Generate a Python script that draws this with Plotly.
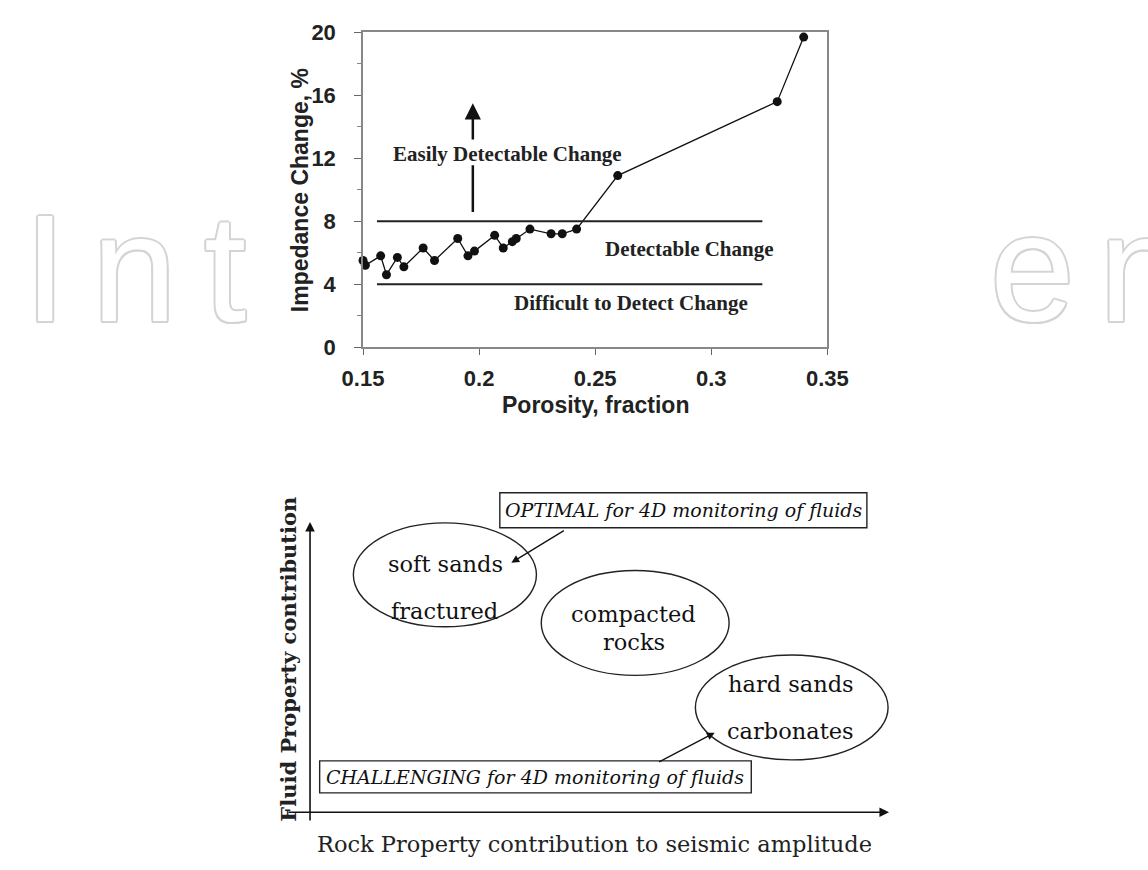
import plotly.graph_objects as go

W, H = 1148, 870

# ---------------- data (top chart) ----------------
porosity = [0.150, 0.151, 0.1576, 0.1601, 0.1648, 0.1676, 0.1759, 0.1808, 0.1908,
            0.1952, 0.198, 0.2067, 0.2104, 0.2143, 0.216, 0.2219, 0.231, 0.2358,
            0.242, 0.2597, 0.3284, 0.3398]
impedance = [5.5, 5.2, 5.8, 4.6, 5.7, 5.1, 6.3, 5.5, 6.9, 5.8, 6.1, 7.1, 6.3, 6.7,
             6.9, 7.5, 7.2, 7.2, 7.5, 10.9, 15.6, 19.7]
thresholds = [4, 8]
threshold_x = [0.156, 0.322]
zone_labels = ["Easily Detectable Change", "Detectable Change", "Difficult to Detect Change"]
zone_x = [0.2122, 0.2907, 0.2655]
zone_y = [12.28, 6.23, 2.78]
x_ticks = [0.15, 0.2, 0.25, 0.3, 0.35]
x_tick_text = ["0.15", "0.2", "0.25", "0.3", "0.35"]
y_ticks = [0, 4, 8, 12, 16, 20]
y_tick_text = ["0", "4", "8", "12", "16", "20"]

# ---------------- data (bottom diagram) ----------------
rock_classes = [["soft sands", "fractured"], ["compacted", "rocks"], ["hard sands", "carbonates"]]
callouts = ["<i>OPTIMAL for 4D monitoring of fluids</i>", "<i>CHALLENGING for 4D monitoring of fluids</i>"]


def px(x):
    return x / W


def py(y):
    return 1 - y / H


def label(x, y, text, family, size, angle=0, color="#222"):
    return dict(x=px(x), y=py(y), xref="paper", yref="paper", text=text, textangle=angle,
                showarrow=False, xanchor="center", yanchor="middle",
                font=dict(family=family, size=size, color=color))


def arrow(tip, tail, width=1.4, size=1.2):
    return dict(x=px(tip[0]), y=py(tip[1]), xref="paper", yref="paper",
                ax=tail[0] - tip[0], ay=tail[1] - tip[1], axref="pixel", ayref="pixel",
                text="", showarrow=True, arrowhead=2, arrowsize=size, arrowwidth=width,
                arrowcolor="#111")


fig = go.Figure()

fig.add_trace(go.Scatter(
    x=porosity, y=impedance, mode="lines+markers",
    line=dict(color="#111", width=1.3),
    marker=dict(color="#111", size=9),
    cliponaxis=False, showlegend=False, hoverinfo="skip"))

shapes = []
annotations = []

# watermark letters (drawn first, behind everything)
wm = "#d4d4d4"
shadow = ", ".join(f"{dx}px {dy}px 0 {wm}" for dx, dy in
                   [(2, 0), (-2, 0), (0, 2), (0, -2), (1.5, 1.5), (-1.5, 1.5), (1.5, -1.5), (-1.5, -1.5)])
for ch, cx in [("I", 25), ("n", 118), ("t", 212), ("e", 1050), ("n", 1163)]:
    wmk = label(cx, 264, ch, "Liberation Sans", 152, color="white")
    wmk["font"]["shadow"] = shadow
    annotations.append(wmk)

# threshold lines
for t in thresholds:
    shapes.append(dict(type="line", xref="x", yref="y", x0=threshold_x[0], x1=threshold_x[1],
                       y0=t, y1=t, line=dict(color="#222", width=2)))

# zone labels
for lab, zx, zy in zip(zone_labels, zone_x, zone_y):
    annotations.append(dict(x=zx, y=zy, xref="x", yref="y", text="<b>" + lab + "</b>",
                            showarrow=False, xanchor="center", yanchor="middle",
                            font=dict(family="Liberation Serif", size=21, color="#222")))

# arrow (broken by label)
shapes.append(dict(type="line", xref="x", yref="y", x0=0.1973, x1=0.1973, y0=8.58, y1=11.55,
                   line=dict(color="#111", width=2.5)))
annotations.append(dict(x=0.1973, y=15.5, xref="x", yref="y", ax=0.1973, ay=13.1,
                        axref="x", ayref="y", text="", showarrow=True, arrowhead=2,
                        arrowsize=1.3, arrowwidth=2.5, arrowcolor="#111"))

# axis titles (top)
annotations.append(label(289, 183, "<b>Impedance Change, %</b>", "Liberation Sans", 23, angle=-90))
annotations.append(label(596, 405, "<b>Porosity, fraction</b>", "Liberation Sans", 23))

# ---------------- bottom diagram ----------------
annotations.append(arrow((300, 525), (300, 825), width=1.6))
annotations.append(arrow((901, 824), (299, 824), width=1.6))

annotations.append(label(278, 666, "<b>Fluid Property contribution</b>", "DejaVu Serif", 21, angle=-90))
annotations.append(label(595, 857, "Rock Property contribution to seismic amplitude", "DejaVu Serif", 22.5))

# ellipses
ell = [(345, 535, 526, 633), (540, 735, 575, 683), (700, 900, 662, 770)]
lab_pos = [[(441, 568), (440, 617)], [(636, 620), (636, 649)], [(799, 692), (799, 740)]]
for (x0, x1, y0, y1), labs, poss in zip(ell, rock_classes, lab_pos):
    shapes.append(dict(type="circle", xref="paper", yref="paper", x0=px(x0), x1=px(x1),
                       y0=py(y1), y1=py(y0), line=dict(color="#222", width=1.4)))
    for lab, (lx, ly) in zip(labs, poss):
        annotations.append(label(lx, ly, lab, "DejaVu Serif", 22.5, color="#111"))

# callout boxes
boxes = [(497, 878, 495, 531), (310, 758, 771, 804)]
for (x0, x1, y0, y1), txt in zip(boxes, callouts):
    shapes.append(dict(type="rect", xref="paper", yref="paper", x0=px(x0), x1=px(x1),
                       y0=py(y1), y1=py(y0), line=dict(color="#222", width=1.4),
                       fillcolor="white", layer="below"))
    annotations.append(label((x0 + x1) / 2, (y0 + y1) / 2, txt, "DejaVu Serif", 19, color="#111"))

# callout arrows
annotations.append(arrow((509, 567), (563, 534), width=1.3))
annotations.append(arrow((720, 742), (663, 772), width=1.3))

fig.update_layout(
    width=W, height=H, autosize=False,
    margin=dict(l=0, r=0, t=0, b=0),
    paper_bgcolor="white", plot_bgcolor="rgba(0,0,0,0)",
    shapes=shapes, annotations=annotations,
    xaxis=dict(domain=[px(355), px(837)], range=[0.15, 0.35], tickvals=x_ticks,
               ticktext=["<b>" + t + "</b>" for t in x_tick_text],
               showgrid=False, zeroline=False, showline=True, mirror=True, linecolor="#888",
               linewidth=1.5, ticks="outside", ticklen=6, tickcolor="#666", ticklabelstandoff=5,
               tickfont=dict(family="Liberation Sans", size=22, color="#222")),
    yaxis=dict(domain=[py(345), py(21)], range=[0, 20], tickvals=y_ticks,
               ticktext=["<b>" + t + "</b>" for t in y_tick_text],
               showgrid=False, zeroline=False, showline=True, mirror=True, linecolor="#888",
               linewidth=1.5, ticks="outside", ticklen=7, tickcolor="#666", ticklabelstandoff=14,
               minor=dict(dtick=2, ticks="outside", ticklen=4, tickcolor="#888"),
               tickfont=dict(family="Liberation Sans", size=22, color="#222")),
)

fig.write_html("out.html")
